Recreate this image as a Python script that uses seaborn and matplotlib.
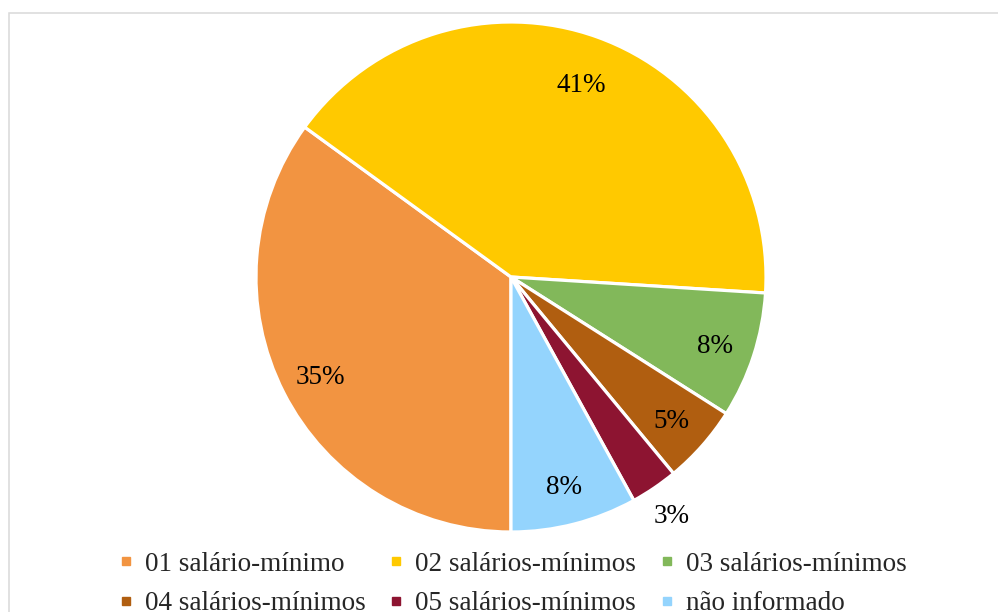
import matplotlib
matplotlib.use("Agg")
import matplotlib.pyplot as plt
from matplotlib.lines import Line2D
from matplotlib.patches import Rectangle
import numpy as np
import seaborn as sns

# Income bands and their shares (%)
categories = ["01 salário-mínimo", "02 salários-mínimos", "03 salários-mínimos",
              "04 salários-mínimos", "05 salários-mínimos", "não informado"]
shares = [35, 41, 8, 5, 3, 8]
slice_colors = ["#F29441", "#FFC900", "#82B85A", "#B05E10", "#8D1431", "#94D4FD"]

sns.set_theme(style="white")
plt.rcParams["font.family"] = ["Liberation Serif", "DejaVu Serif"]

W, H = 998, 612
fig = plt.figure(figsize=(W / 100, H / 100), dpi=100)

# light frame around the chart area
fig.patches.append(Rectangle((8.5 / W, -0.1), 1.2, (H - 12.5) / H + 0.1,
                             transform=fig.transFigure, fill=False,
                             edgecolor="#D9D9D9", linewidth=1.1, zorder=0))

cx, cy, r = 511, 277, 255
ax = fig.add_axes([(cx - r) / W, (H - cy - r) / H, 2 * r / W, 2 * r / H])

palette = sns.color_palette(slice_colors)
wedges, texts, autotexts = ax.pie(
    shares, colors=palette, startangle=-90, counterclock=False,
    autopct=lambda p: f"{p:.0f}%", pctdistance=0.84,
    wedgeprops=dict(edgecolor="white", linewidth=2.3),
    textprops=dict(fontsize=19.5, color="black"))
ax.set_xlim(-1, 1)
ax.set_ylim(-1, 1)
ax.set_aspect("equal")
ax.axis("off")

for w, t, v in zip(wedges, autotexts, shares):
    t.set_verticalalignment("center_baseline")
    mid = np.deg2rad((w.theta1 + w.theta2) / 2)
    if v <= 3:
        # the thin slice gets its label outside the pie
        t.set_position((1.12 * np.cos(mid), 1.12 * np.sin(mid)))
    elif v >= 40:
        t.set_position((0.81 * np.cos(mid), 0.81 * np.sin(mid)))

handles = [Line2D([], [], marker="s", linestyle="none", markersize=6,
                  markerfacecolor=c, markeredgecolor=c) for c in slice_colors]
order = [0, 3, 1, 4, 2, 5]
fig.legend([handles[i] for i in order], [categories[i] for i in order],
           ncol=3, loc="center", bbox_to_anchor=(0.514, 1 - 584 / H),
           frameon=False, fontsize=19.5, handlelength=0.5, handletextpad=0.45,
           columnspacing=0.9, labelspacing=0.54, borderpad=0)

fig.savefig("out.png", dpi=100, facecolor="white")
